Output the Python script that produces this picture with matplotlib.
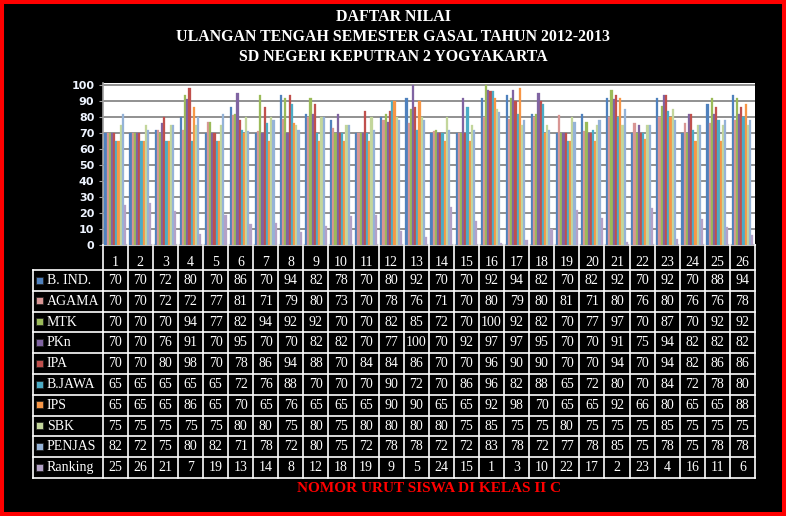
import matplotlib

matplotlib.use("Agg")
import matplotlib.pyplot as plt
import numpy as np
from matplotlib.patches import Rectangle

# --- data ---------------------------------------------------------------------

students = [str(i) for i in range(1, 27)]
subjects = ["B. IND.", "AGAMA", "MTK", "PKn", "IPA", "B.JAWA", "IPS", "SBK", "PENJAS", "Ranking"]

b_ind = [70, 70, 72, 80, 70, 86, 70, 94, 82, 78, 70, 80, 92, 70, 70, 92, 94, 82, 70, 82, 92, 70, 92, 70, 88, 94]
agama = [70, 70, 72, 72, 77, 81, 71, 79, 80, 73, 70, 78, 76, 71, 70, 80, 79, 80, 81, 71, 80, 76, 80, 76, 76, 78]
mtk = [70, 70, 70, 94, 77, 82, 94, 92, 92, 70, 70, 82, 85, 72, 70, 100, 92, 82, 70, 77, 97, 70, 87, 70, 92, 92]
pkn = [70, 70, 76, 91, 70, 95, 70, 70, 82, 82, 70, 77, 100, 70, 92, 97, 97, 95, 70, 70, 91, 75, 94, 82, 82, 82]
ipa = [70, 70, 80, 98, 70, 78, 86, 94, 88, 70, 84, 84, 86, 70, 70, 96, 90, 90, 70, 70, 94, 70, 94, 82, 86, 86]
b_jawa = [65, 65, 65, 65, 65, 72, 76, 88, 70, 70, 70, 90, 72, 70, 86, 96, 82, 88, 65, 72, 80, 70, 84, 72, 78, 80]
ips = [65, 65, 65, 86, 65, 70, 65, 76, 65, 65, 65, 90, 90, 65, 65, 92, 98, 70, 65, 65, 92, 66, 80, 65, 65, 88]
sbk = [75, 75, 75, 75, 75, 80, 80, 75, 80, 75, 80, 80, 80, 80, 75, 85, 75, 75, 80, 75, 75, 75, 85, 75, 75, 75]
penjas = [82, 72, 75, 80, 82, 71, 78, 72, 80, 75, 72, 78, 78, 72, 72, 83, 78, 72, 77, 78, 85, 75, 78, 75, 78, 78]
ranking = [25, 26, 21, 7, 19, 13, 14, 8, 12, 18, 19, 9, 5, 24, 15, 1, 3, 10, 22, 17, 2, 23, 4, 16, 11, 6]

series = [b_ind, agama, mtk, pkn, ipa, b_jawa, ips, sbk, penjas, ranking]
colors = ["#4F81BD", "#D99694", "#9BBB59", "#8064A2", "#C0504D",
          "#4BACC6", "#F79646", "#C3D69B", "#95B3D7", "#B3A2C7"]

# --- layout (pixels of a 786x516 canvas) --------------------------------------

W, H = 786, 516
PLOT_L, PLOT_R, PLOT_T, PLOT_B = 102.7, 755.0, 83.0, 245.0
LABEL_L = 33.3
ROW_TOP = 270.0
ROW_H = 20.8
SERIF = "Liberation Serif"

fig = plt.figure(figsize=(W / 100, H / 100), dpi=100, facecolor="black")

ax = fig.add_axes([PLOT_L / W, 1 - PLOT_B / H, (PLOT_R - PLOT_L) / W, (PLOT_B - PLOT_T) / H])
ax.set_facecolor("white")
x = np.arange(len(students))
bw = 0.087
for j, (vals, c) in enumerate(zip(series, colors)):
    ax.bar(x + (j - 4.5) * bw, vals, width=bw, color=c, edgecolor=c, linewidth=0.2, zorder=3)

ax.set_xlim(-0.5, len(students) - 0.5)
ax.set_ylim(0, 101.2)
ax.set_yticks(np.arange(0, 101, 10))
ax.yaxis.grid(True, color="#909090", linewidth=1.4, zorder=0)
ax.set_xticks([])
for s in ["top", "right"]:
    ax.spines[s].set_visible(False)
ax.spines["left"].set_color("#a0a0a0")
ax.spines["bottom"].set_color("#c0c0c0")
ax.spines["left"].set_linewidth(1.2)
ax.spines["bottom"].set_linewidth(1.5)
ax.tick_params(axis="y", colors="#a0a0a0", length=3, labelcolor="#eef4ff",
               labelsize=8, pad=3)
for lab in ax.get_yticklabels():
    lab.set_fontweight("bold")

# --- overlay: titles, data table, footer --------------------------------------

ov = fig.add_axes([0, 0, 1, 1])
ov.set_xlim(0, W)
ov.set_ylim(H, 0)
ov.axis("off")
ov.patch.set_visible(False)

titles = ["DAFTAR NILAI",
          "ULANGAN TENGAH SEMESTER GASAL TAHUN 2012-2013",
          "SD NEGERI KEPUTRAN 2 YOGYAKARTA"]
for i, t in enumerate(titles):
    ov.text(W / 2, 17 + 20 * i, t, color="white", fontsize=11.4, fontweight="bold",
            family=SERIF, ha="center", va="center")

col_w = (PLOT_R - PLOT_L) / len(students)
n_rows = len(series)
table_bot = ROW_TOP + n_rows * ROW_H
lc = dict(color="white", linewidth=1.2)

for k in range(len(students) + 1):
    xx = PLOT_L + k * col_w
    ov.plot([xx, xx], [PLOT_B, table_bot], **lc)
ov.plot([LABEL_L, LABEL_L], [ROW_TOP, table_bot], **lc)
for r in range(n_rows + 1):
    yy = ROW_TOP + r * ROW_H
    ov.plot([LABEL_L, PLOT_R], [yy, yy], **lc)

for k, s in enumerate(students):
    ov.text(PLOT_L + (k + 0.5) * col_w, 262, s, color="white", fontsize=10,
            family=SERIF, ha="center", va="center")

for r, (name, vals, c) in enumerate(zip(subjects, series, colors)):
    yc = ROW_TOP + (r + 0.5) * ROW_H
    ov.add_patch(Rectangle((36, yc - 3.8), 7, 7, facecolor=c, edgecolor="#202020",
                           linewidth=0.5))
    ov.text(47, yc, name, color="white", fontsize=10, family=SERIF,
            ha="left", va="center")
    for k, v in enumerate(vals):
        ov.text(PLOT_L + (k + 0.5) * col_w, yc, str(v), color="white", fontsize=10,
                family=SERIF, ha="center", va="center")

ov.text((PLOT_L + PLOT_R) / 2, 489, "NOMOR URUT SISWA DI KELAS II C", color="red",
        fontsize=11, fontweight="bold", family=SERIF, ha="center", va="center")

fig.add_artist(Rectangle((0, 0), 1, 1, transform=fig.transFigure, fill=False,
                         edgecolor="red", linewidth=5.8))

fig.savefig("out.png", dpi=100, facecolor="black")
